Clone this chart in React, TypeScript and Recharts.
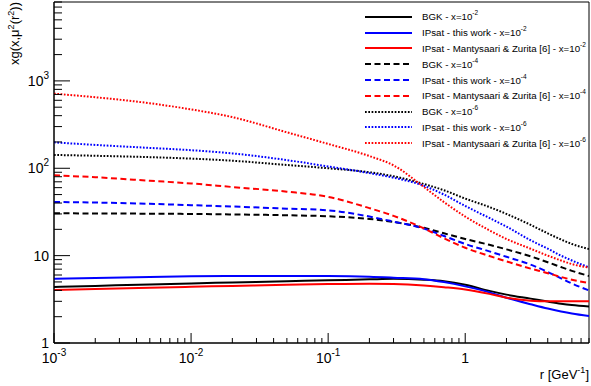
import { LineChart, Line, XAxis, YAxis, Legend, ReferenceArea } from "recharts";

// r in GeV^-1
const rValues = [0.001, 0.002, 0.005, 0.01, 0.02, 0.05, 0.1, 0.2, 0.3, 0.5, 0.7, 1, 1.5, 2, 3, 4, 5, 6, 8];

// x = 1e-2 (solid)
const bgkX2 = [4.37, 4.5, 4.68, 4.81, 4.93, 5.1, 5.22, 5.35, 5.42, 5.3, 5.1, 4.65, 3.95, 3.58, 3.22, 2.98, 2.82, 2.72, 2.62];
const ipsatX2 = [5.43, 5.55, 5.7, 5.8, 5.84, 5.86, 5.85, 5.75, 5.6, 5.38, 4.98, 4.45, 3.8, 3.3, 2.78, 2.48, 2.3, 2.18, 2.04];
const mzX2 = [4.03, 4.15, 4.3, 4.4, 4.5, 4.64, 4.73, 4.78, 4.74, 4.55, 4.35, 4.1, 3.65, 3.3, 3.05, 3.0, 3.0, 3.0, 3.0];

// x = 1e-4 (dashed)
const bgkX4 = [30.5, 30.4, 30.2, 30, 29.6, 29, 28.2, 26.3, 24.3, 20.8, 18, 15.5, 13.3, 11.8, 9.8, 8.4, 7.4, 6.7, 5.85];
const ipsatX4 = [41.2, 40.5, 39.2, 37.8, 36.5, 34.5, 33, 28, 24.5, 20.4, 16.8, 13.6, 11.2, 9.7, 7.9, 6.5, 5.5, 4.8, 4.0];
const mzX4 = [83, 79, 72, 67, 61, 54, 47, 35, 28.5, 20.5, 15.8, 12.3, 9.9, 8.6, 7.1, 6.3, 5.7, 5.3, 4.85];

// x = 1e-6 (dotted)
const bgkX6 = [142, 139, 134, 129, 122, 109, 100, 90, 81, 66, 56, 45, 36, 30, 22.5, 18, 15.3, 13.6, 11.9];
const ipsatX6 = [198, 185, 171, 161, 148, 124, 105, 88, 78, 63, 50, 37, 27, 21.5, 15, 12, 10, 8.8, 7.35];
const mzX6 = [714, 650, 555, 472, 385, 258, 190, 138, 108, 61, 41, 28, 19.5, 15.5, 12, 10, 8.8, 8.0, 7.3];

const xTicks = [
  0.001, 0.002, 0.003, 0.004, 0.005, 0.006, 0.007, 0.008, 0.009,
  0.01, 0.02, 0.03, 0.04, 0.05, 0.06, 0.07, 0.08, 0.09,
  0.1, 0.2, 0.3, 0.4, 0.5, 0.6, 0.7, 0.8, 0.9,
  1, 2, 3, 4, 5, 6, 7, 8,
];
const yTicks = [
  1, 2, 3, 4, 5, 6, 7, 8, 9,
  10, 20, 30, 40, 50, 60, 70, 80, 90,
  100, 200, 300, 400, 500, 600, 700, 800, 900,
  1000, 2000, 3000, 4000, 5000, 6000, 7000, 8000,
];
const xMajor = [
  { value: 0.001, base: "10", exp: "-3" },
  { value: 0.01, base: "10", exp: "-2" },
  { value: 0.1, base: "10", exp: "-1" },
  { value: 1, base: "1", exp: "" },
];
const yMajor = [
  { value: 1, base: "1", exp: "" },
  { value: 10, base: "10", exp: "" },
  { value: 100, base: "10", exp: "2" },
  { value: 1000, base: "10", exp: "3" },
];

const SOLID = undefined;
const DASHED = "6 3.5";
const DOTTED = "1.7 1.6";

const series = [
  { key: "bgkX2", values: bgkX2, name: "BGK - x=10", exp: "-2", color: "#000000", dash: SOLID },
  { key: "ipsatX2", values: ipsatX2, name: "IPsat - this work - x=10", exp: "-2", color: "#0000ff", dash: SOLID },
  { key: "mzX2", values: mzX2, name: "IPsat - Mantysaari & Zurita [6] - x=10", exp: "-2", color: "#ff0000", dash: SOLID },
  { key: "bgkX4", values: bgkX4, name: "BGK - x=10", exp: "-4", color: "#000000", dash: DASHED },
  { key: "ipsatX4", values: ipsatX4, name: "IPsat - this work - x=10", exp: "-4", color: "#0000ff", dash: DASHED },
  { key: "mzX4", values: mzX4, name: "IPsat - Mantysaari & Zurita [6] - x=10", exp: "-4", color: "#ff0000", dash: DASHED },
  { key: "bgkX6", values: bgkX6, name: "BGK - x=10", exp: "-6", color: "#000000", dash: DOTTED },
  { key: "ipsatX6", values: ipsatX6, name: "IPsat - this work - x=10", exp: "-6", color: "#0000ff", dash: DOTTED },
  { key: "mzX6", values: mzX6, name: "IPsat - Mantysaari & Zurita [6] - x=10", exp: "-6", color: "#ff0000", dash: DOTTED },
];

const data = rValues.map((r, i) => {
  const row: Record<string, number> = { r };
  series.forEach((s) => {
    row[s.key] = s.values[i];
  });
  return row;
});

const FONT = "'Liberation Sans', Arial, Helvetica, sans-serif";
const PLOT_BOTTOM = 343;
const PLOT_LEFT = 54;

const XTick = (props: any) => {
  const { x, payload } = props;
  const major = xMajor.find((m) => Math.abs(m.value - payload.value) < 1e-9);
  const len = major ? 10 : 5;
  return (
    <g>
      <line x1={x} x2={x} y1={PLOT_BOTTOM} y2={PLOT_BOTTOM - len} stroke="#000" />
      {major && (
        <text x={x} y={363} textAnchor="middle" fontSize={14} fontFamily={FONT} fill="#000">
          {major.base}
          {major.exp && (
            <tspan dy={-7} fontSize={10}>
              {major.exp}
            </tspan>
          )}
        </text>
      )}
    </g>
  );
};

const YTick = (props: any) => {
  const { y, payload } = props;
  const major = yMajor.find((m) => Math.abs(m.value - payload.value) < 1e-9);
  const len = major ? 16 : 8;
  return (
    <g>
      <line x1={PLOT_LEFT} x2={PLOT_LEFT + len} y1={y} y2={y} stroke="#000" />
      {major && (
        <text x={49} y={y + 5} textAnchor="end" fontSize={14} fontFamily={FONT} fill="#000">
          {major.base}
          {major.exp && (
            <tspan dy={-7} fontSize={10}>
              {major.exp}
            </tspan>
          )}
        </text>
      )}
    </g>
  );
};

const LegendBox = () => (
  <div style={{ fontFamily: FONT, fontSize: 9.7, color: "#000" }}>
    {series.map((s) => (
      <div key={s.key} style={{ display: "flex", alignItems: "center", height: 15.8 }}>
        <svg width={57} height={6} style={{ flex: "none" }}>
          <line x1={0} x2={47} y1={3} y2={3} stroke={s.color} strokeWidth={2} strokeDasharray={s.dash} />
        </svg>
        <span style={{ whiteSpace: "nowrap" }}>
          {s.name}
          <sup style={{ fontSize: 6.5, verticalAlign: "top", position: "relative", top: -2 }}>{s.exp}</sup>
        </span>
      </div>
    ))}
  </div>
);

export default function App() {
  return (
    <div style={{ position: "absolute", left: 0, top: 0, width: 591, height: 386, background: "#fff" }}>
      <LineChart width={591} height={386} data={data} margin={{ top: 2, right: 2, left: 0, bottom: 0 }}>
        <XAxis
          dataKey="r"
          type="number"
          scale="log"
          domain={[0.001, 8]}
          allowDataOverflow
          ticks={xTicks}
          interval={0}
          tick={<XTick />}
          tickLine={false}
          tickSize={0}
          tickMargin={0}
          height={43}
          stroke="#000"
          label={{
            content: () => (
              <text x={589} y={379} textAnchor="end" fontSize={13} fontFamily={FONT} fill="#000">
                r [GeV
                <tspan dy={-6} fontSize={9}>
                  -1
                </tspan>
                <tspan dy={6}>]</tspan>
              </text>
            ),
          }}
        />
        <YAxis
          type="number"
          scale="log"
          domain={[1, 8000]}
          allowDataOverflow
          ticks={yTicks}
          interval={0}
          tick={<YTick />}
          tickLine={false}
          tickSize={0}
          tickMargin={0}
          width={54}
          stroke="#000"
          label={{
            content: () => (
              <text
                x={0}
                y={0}
                transform="translate(19,2) rotate(-90)"
                textAnchor="end"
                fontSize={13}
                fontFamily={FONT}
                fill="#000"
              >
                xg(x,μ
                <tspan dy={-5} fontSize={9}>
                  2
                </tspan>
                <tspan dy={5}>(r</tspan>
                <tspan dy={-5} fontSize={9}>
                  2
                </tspan>
                <tspan dy={5}>))</tspan>
              </text>
            ),
          }}
        />
        <ReferenceArea x1={0.001} x2={8} y1={1} y2={8000} fill="none" stroke="#000" strokeWidth={1} ifOverflow="visible" />
        {series.map((s) => (
          <Line
            key={s.key}
            dataKey={s.key}
            type="monotone"
            stroke={s.color}
            strokeWidth={2}
            strokeDasharray={s.dash}
            dot={false}
            activeDot={false}
            isAnimationActive={false}
          />
        ))}
        <Legend
          layout="horizontal"
          verticalAlign="middle"
          align="center"
          content={<LegendBox />}
          wrapperStyle={{ top: 9, left: 365, width: 226 }}
        />
      </LineChart>
    </div>
  );
}
